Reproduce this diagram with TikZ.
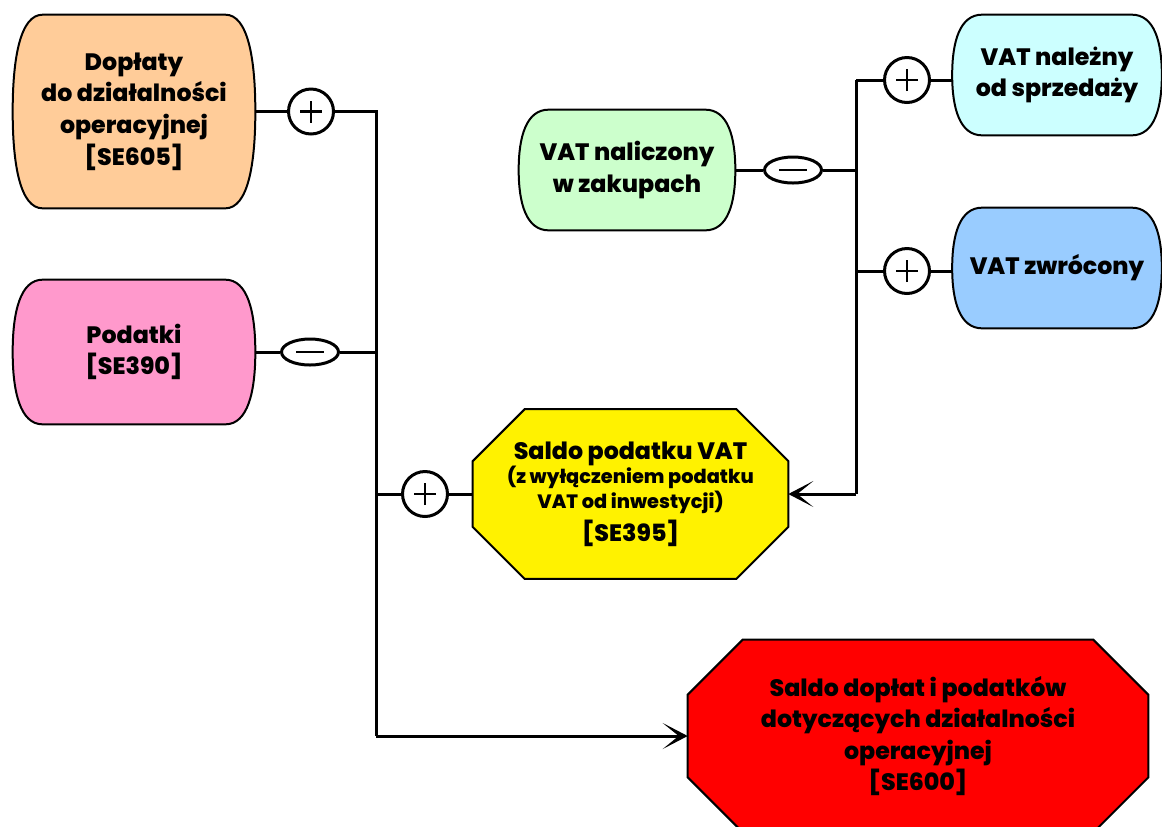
\documentclass[tikz,border=0pt]{standalone}
\usepackage{fontspec}
\setmainfont{Poppins}[BoldFont={Poppins ExtraBold}]
\usetikzlibrary{shapes.geometric,arrows.meta,calc,backgrounds}

\definecolor{peach}{HTML}{FFCC99}
\definecolor{pinkbox}{HTML}{FF99CC}
\definecolor{mintbox}{HTML}{CCFFCC}
\definecolor{cyanbox}{HTML}{CCFFFF}
\definecolor{bluebox}{HTML}{99CCFF}

% outline with flat top/bottom and bulging sides, drawn round a named node
\newcommand\drawside[2]{%
  \draw[line width=0.04cm,fill=#2] ([xshift=0.6cm]#1.north west) -- ([xshift=-0.6cm]#1.north east)
    .. controls ([xshift=-0.15cm]#1.north east) and ($(#1.north east)!0.45!(#1.east)$) .. (#1.east)
    .. controls ($(#1.south east)!0.45!(#1.east)$) and ([xshift=-0.15cm]#1.south east) .. ([xshift=-0.6cm]#1.south east)
    -- ([xshift=0.6cm]#1.south west)
    .. controls ([xshift=0.15cm]#1.south west) and ($(#1.south west)!0.45!(#1.west)$) .. (#1.west)
    .. controls ($(#1.north west)!0.45!(#1.west)$) and ([xshift=0.15cm]#1.north west) .. ([xshift=0.6cm]#1.north west) -- cycle;}
% octagon drawn round a named node, #3 = size of the cut corners
\newcommand\drawocto[3]{%
  \draw[line width=0.04cm,fill=#2] ([xshift=#3]#1.north west) -- ([xshift=-#3]#1.north east) -- ([yshift=-#3]#1.north east)
    -- ([yshift=#3]#1.south east) -- ([xshift=-#3]#1.south east) -- ([xshift=#3]#1.south west)
    -- ([yshift=#3]#1.south west) -- ([yshift=-#3]#1.north west) -- cycle;}

\begin{document}
\begin{tikzpicture}[x=0.02cm,y=-0.02cm,font=\bfseries\fontsize{13.5}{18}\selectfont,
  box/.style={rectangle,align=center,inner sep=0pt},
  conn/.style={line width=0.06cm},
  tip/.style={-{Stealth[length=0.5cm,width=0.52cm,inset=0.32cm]}},
  opplus/.style={circle,draw,line width=0.06cm,fill=white,minimum size=0.9cm,inner sep=0pt,
    path picture={\draw[line width=0.055cm] ([xshift=-0.22cm]path picture bounding box.center) -- ([xshift=0.22cm]path picture bounding box.center)
      ([yshift=-0.22cm]path picture bounding box.center) -- ([yshift=0.22cm]path picture bounding box.center);}},
  opminus/.style={ellipse,draw,line width=0.06cm,fill=white,minimum width=1.14cm,minimum height=0.52cm,inner sep=0pt,
    path picture={\draw[line width=0.055cm] ([xshift=-0.28cm]path picture bounding box.center) -- ([xshift=0.28cm]path picture bounding box.center);}}]

\useasboundingbox (0,0) rectangle (1162,826);

% boxes
\node[box,minimum width=4.84cm,minimum height=3.86cm] (dopl) at (134,111.5) {Dopłaty\\do działalności\\operacyjnej\\{[SE605]}};
\node[box,minimum width=4.84cm,minimum height=2.88cm] (podat) at (134,352) {Podatki\\{[SE390]}};
\node[box,minimum width=4.32cm,minimum height=2.4cm] (nalicz) at (627,170) {VAT naliczony\\w zakupach};
\node[box,minimum width=4.18cm,minimum height=2.4cm] (nalez) at (1057,75) {VAT należny\\od sprzedaży};
\node[box,minimum width=4.18cm,minimum height=2.4cm] (zwroc) at (1057,268) {VAT zwrócony};

% saldo
\node[box,minimum width=6.3cm,minimum height=3.38cm,font=\bfseries\fontsize{13.5}{14.2}\selectfont] (svat) at (630.5,494)
  {Saldo podatku VAT\\[0pt]\fontsize{11}{14.2}\selectfont (z wyłączeniem podatku\\\fontsize{11}{14.2}\selectfont VAT od inwestycji)\\[2.3pt]{[SE395]}};
\node[box,minimum width=9.2cm,minimum height=3.84cm] (sall) at (918,736) {Saldo dopłat i podatków\\dotyczących działalności\\operacyjnej\\{[SE600]}};

\begin{scope}[on background layer]
\drawside{dopl}{peach}
\drawside{podat}{pinkbox}
\drawside{nalicz}{mintbox}
\drawside{nalez}{cyanbox}
\drawside{zwroc}{bluebox}
\drawocto{svat}{yellow}{1.04cm}
\drawocto{sall}{red}{1.1cm}
\end{scope}

% operators
\node[opplus] (p1) at (311,111.5) {};
\node[opminus] (m1) at (310,352) {};
\node[opplus] (p2) at (425,494) {};
\node[opminus] (m2) at (793,170) {};
\node[opplus] (p3) at (907,80) {};
\node[opplus] (p4) at (907,271) {};

% busses
\coordinate (b1) at (376,111.5);
\coordinate (b2) at (376,352);
\coordinate (b3) at (376,494);
\coordinate (b4) at (376,736);
\coordinate (c1) at (856,80);
\coordinate (c2) at (856,170);
\coordinate (c3) at (856,271);
\coordinate (c4) at (856,494);

\draw[conn] (dopl) -- (p1) -- (b1) -- (b4);
\draw[conn,tip] (b4) -- (b4 -| sall.west);
\draw[conn] (podat) -- (m1) -- (b2);
\draw[conn] (b3) -- (p2) -- (p2 -| svat.west);

\draw[conn] (nalicz) -- (m2) -- (c2);
\draw[conn] (c1) -- (c4);
\draw[conn,tip] (c4) -- (c4 -| svat.east);
\draw[conn] (c1) -- (p3) -- (p3 -| nalez.west);
\draw[conn] (c3) -- (p4) -- (p4 -| zwroc.west);
\end{tikzpicture}
\end{document}
